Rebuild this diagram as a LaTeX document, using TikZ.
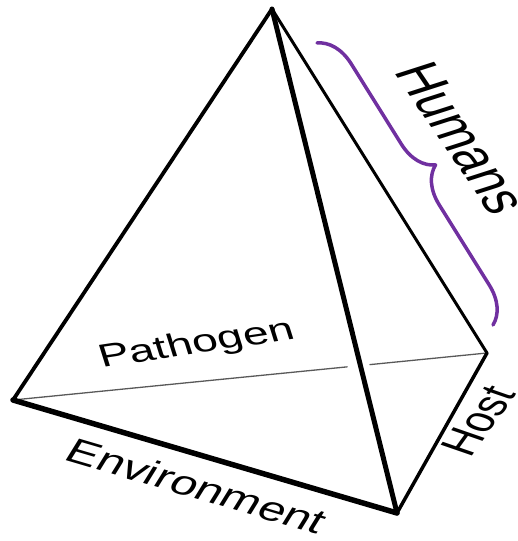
\documentclass[tikz,border=0pt]{standalone}
\usepackage{fontspec}
\setmainfont{Liberation Sans}
\usetikzlibrary{decorations.pathreplacing,calc}
\definecolor{brpurple}{HTML}{7030A0}
\begin{document}
\begin{tikzpicture}[x=1pt,y=1pt, line join=round, line cap=round,
  lbl/.style={inner sep=0pt, transform shape},
  hidden/.style={draw=black!65, line width=1.3pt},
  edge/.style={draw=black}]
\useasboundingbox (0,0) rectangle (518,541);
\coordinate (A) at (272,532);
\coordinate (L) at (13,141);
\coordinate (F) at (397,28);
\coordinate (R) at (487,188);
\draw[hidden] (L) -- ($(L)!0.705!(R)$);
\draw[hidden] ($(L)!0.753!(R)$) -- (R);
\draw[edge, line width=3.8pt] (A) -- (L);
\draw[edge, line width=3pt] (A) -- (R);
\draw[edge, line width=5pt] (A) -- (F);
\draw[edge, line width=5.5pt] (L) -- (F);
\draw[edge, line width=3.5pt] (F) -- (R);
\coordinate (B1) at (317,498);
\coordinate (B2) at (493,216);
\draw[brpurple, line width=3.5pt, decorate, decoration={brace, amplitude=36pt}] (B1) -- (B2);
\begin{scope}[xscale=1.45]
\node[lbl, rotate=12.2, font=\fontsize{32}{40}\selectfont] (pat) at ({197/1.45},196) {Pathogen};
\node[lbl, rotate=-23.1, font=\fontsize{34}{40}\selectfont] (env) at ({197/1.45},55) {Environment};
\node[lbl, rotate=63.4, font=\fontsize{35}{42}\selectfont] (host) at ({478/1.45},120) {Host};
\node[lbl, rotate=-65, font=\fontsize{43}{50}\selectfont] (hum) at ({462/1.45},403) {Humans};
\end{scope}
\end{tikzpicture}
\end{document}
